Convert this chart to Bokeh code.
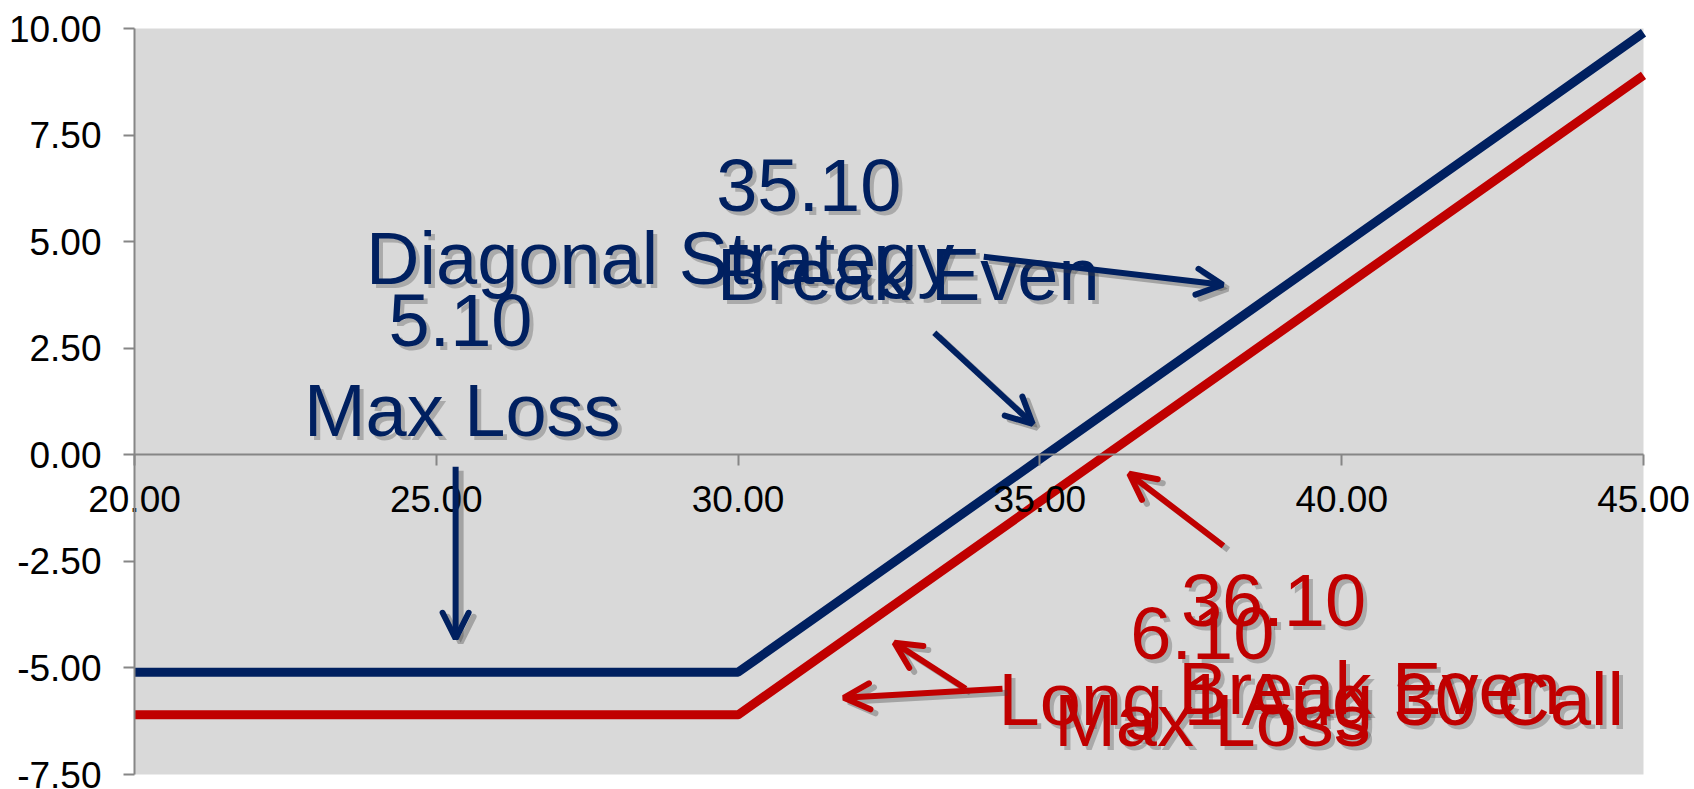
from bokeh.plotting import figure
from bokeh.models import (Range1d, Arrow, OpenHead, ColumnDataSource, FixedTicker,
                          NumeralTickFormatter)
from bokeh.core.properties import value
from bokeh.embed import file_html
from bokeh.resources import INLINE

# ---- data ----
strike_price = [20.0, 25.0, 30.0, 35.0, 40.0, 45.0]
diagonal_strategy_pl = [-5.10, -5.10, -5.10, -0.10, 4.90, 9.90]
long_aug30_call_pl = [-6.10, -6.10, -6.10, -1.10, 3.90, 8.90]

x_ticks = [20.0, 25.0, 30.0, 35.0, 40.0, 45.0]
y_ticks = [-7.5, -5.0, -2.5, 0.0, 2.5, 5.0, 7.5, 10.0]
x_min, x_max = 20.0, 45.0
y_min, y_max = -7.5, 10.0

# ---- annotations (data coordinates: centre x, baseline y) ----
blue_labels = ["35.10", "Diagonal Strategy", "Break Even", "5.10", "Max Loss"]
blue_label_x = [31.17, 28.71, 32.82, 25.40, 25.43]
blue_label_y = [5.677, 3.964, 3.589, 2.510, 0.399]

red_labels = ["36.10", "6.10", "Break Even", "Long 1 Aug 30 Call", "Max Loss"]
red_label_x = [38.87, 37.69, 40.46, 39.53, 37.86]
red_label_y = [-4.058, -4.832, -6.122, -6.381, -6.873]

blue_arrow_x0 = [34.07, 33.25, 25.32]
blue_arrow_y0 = [4.645, 2.862, -0.281]
blue_arrow_x1 = [38.03, 34.88, 25.32]
blue_arrow_y1 = [3.988, 0.727, -4.316]

red_arrow_x0 = [38.04, 33.77, 34.38]
red_arrow_y0 = [-2.135, -5.489, -5.489]
red_arrow_x1 = [36.48, 32.59, 31.75]
red_arrow_y1 = [-0.446, -4.410, -5.700]

BLUE = "#002060"
RED = "#C00000"
SHADOW = "#404040"
AXIS = "#868686"
PLOT_BG = "#d9d9d9"
FONT = "Liberation Sans"
BASELINE_FIX = -27  # px, renderer baseline calibration

W, H = 1694, 789
# plot area margins inside the page (px)
LEFT, RIGHT, TOP, BOTTOM = 134, 51, 28, 15
ux = (x_max - x_min) / (W - LEFT - RIGHT)   # data units per px
uy = (y_max - y_min) / (H - TOP - BOTTOM)

p = figure(width=W, height=H, output_backend="svg", toolbar_location=None,
           x_range=Range1d(x_min - LEFT * ux, x_max + RIGHT * ux),
           y_range=Range1d(y_min - BOTTOM * uy, y_max + TOP * uy),
           min_border=0)

p.background_fill_color = "white"
p.border_fill_color = "white"
p.outline_line_color = None
p.grid.visible = False

# grey plot area
p.quad(left=[x_min], right=[x_max], bottom=[y_min], top=[y_max],
       fill_color=PLOT_BG, line_color=None)

p.xaxis.fixed_location = 0
p.yaxis.fixed_location = x_min
p.xaxis.bounds = (x_min, x_max)
p.yaxis.bounds = (y_min, y_max)
p.xaxis.ticker = FixedTicker(ticks=x_ticks)
p.yaxis.ticker = FixedTicker(ticks=y_ticks)
p.axis.formatter = NumeralTickFormatter(format="0.00")
p.axis.axis_line_color = AXIS
p.axis.axis_line_width = 2
p.axis.major_tick_line_color = AXIS
p.axis.major_tick_line_width = 2
p.axis.major_tick_in = 0
p.axis.major_tick_out = 11
p.axis.minor_tick_line_color = None
p.axis.major_label_text_font = FONT
p.axis.major_label_text_color = "black"
p.yaxis.major_label_text_font_size = "37px"
p.xaxis.major_label_text_font_size = "37px"
p.yaxis.major_label_standoff = 22
p.xaxis.major_label_standoff = 20

# lines
p.line(strike_price, diagonal_strategy_pl, line_color=BLUE, line_width=9,
       line_cap="butt", line_join="round")
p.line(strike_price, long_aug30_call_pl, line_color=RED, line_width=9,
       line_cap="butt", line_join="round")

# shadow offsets for arrows (5 px right, 4 px down)
dx = 5 * ux
dy = -4 * uy


def add_texts(labels, xs, ys, color):
    src = ColumnDataSource(dict(x=xs, y=ys, text=labels))
    p.text(x="x", y="y", text="text", source=src, x_offset=4,
           y_offset=BASELINE_FIX + 4,
           text_font=value(FONT), text_font_size="74px", text_align="center",
           text_baseline="alphabetic", text_color=SHADOW, text_alpha=0.3)
    p.text(x="x", y="y", text="text", source=src, y_offset=BASELINE_FIX,
           text_font=value(FONT), text_font_size="74px", text_align="center",
           text_baseline="alphabetic", text_color=color)


def add_arrows(x0, y0, x1, y1, color):
    shadow_src = ColumnDataSource(dict(
        x0=[v + dx for v in x0], y0=[v + dy for v in y0],
        x1=[v + dx for v in x1], y1=[v + dy for v in y1]))
    p.add_layout(Arrow(end=OpenHead(size=26, line_width=6, line_color=SHADOW,
                                    line_alpha=0.35, line_cap="round"),
                       x_start="x0", y_start="y0", x_end="x1", y_end="y1",
                       source=shadow_src, line_width=6, line_color=SHADOW,
                       line_alpha=0.35))
    src = ColumnDataSource(dict(x0=x0, y0=y0, x1=x1, y1=y1))
    p.add_layout(Arrow(end=OpenHead(size=26, line_width=6, line_color=color,
                                    line_cap="round"),
                       x_start="x0", y_start="y0", x_end="x1", y_end="y1",
                       source=src, line_width=6, line_color=color))


add_texts(blue_labels, blue_label_x, blue_label_y, BLUE)
add_texts(red_labels, red_label_x, red_label_y, RED)
add_arrows(blue_arrow_x0, blue_arrow_y0, blue_arrow_x1, blue_arrow_y1, BLUE)
add_arrows(red_arrow_x0, red_arrow_y0, red_arrow_x1, red_arrow_y1, RED)

open("out.html", "w").write(file_html(p, INLINE))
